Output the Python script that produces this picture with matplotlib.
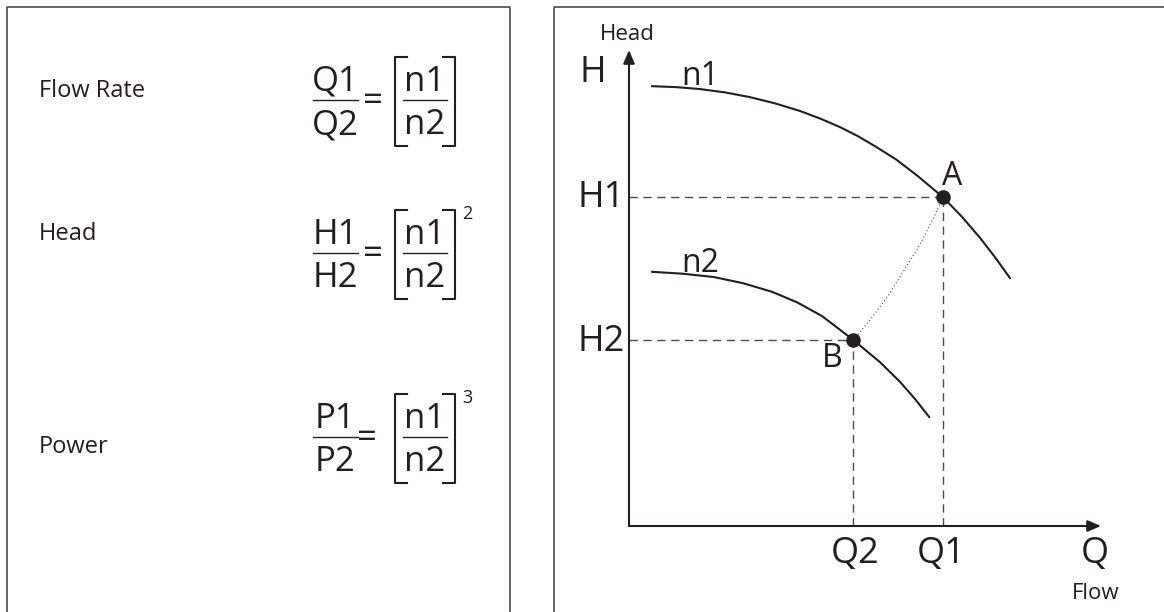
import matplotlib
matplotlib.use('Agg')
import matplotlib.pyplot as plt

plt.rcParams['font.family'] = ['Open Sans', 'DejaVu Sans']

INK = '#231f20'
GREY = '#4d4d4d'

# affinity law rows (left panel)
row_names = ['Flow Rate', 'Head', 'Power']
row_ratios = [('Q1', 'Q2'), ('H1', 'H2'), ('P1', 'P2')]
row_powers = ['', '2', '3']
speed_ratio = ('n1', 'n2')

# pump curves (Q and H in % of the axis length)
n1_q = [4.9, 10.0, 15.0, 20.3, 25.6, 30.9, 36.2, 40.5, 44.7, 48.5, 52.1, 56.6, 61.2, 66.5, 70.5, 74.4, 77.6, 80.7]
n1_h = [92.4, 92.2, 91.8, 91.1, 90.1, 88.8, 87.2, 85.6, 83.8, 81.9, 79.8, 77.0, 73.5, 69.1, 65.0, 60.5, 56.4, 52.1]
n2_q = [4.9, 11.4, 18.0, 24.2, 30.3, 35.6, 40.9, 47.5, 53.2, 57.4, 60.5, 63.6]
n2_h = [53.4, 53.0, 52.3, 51.0, 49.2, 47.0, 44.1, 39.1, 34.4, 30.3, 26.8, 22.9]

# affinity parabola joining B and A
par_q = [47.5, 51.1, 54.7, 58.1, 61.7, 64.8, 66.5]
par_h = [39.1, 43.3, 48.1, 53.4, 59.2, 65.3, 69.1]

# duty points
pt_a = (66.5, 69.1)
pt_b = (47.5, 39.1)

W, H = 1164, 612
fig = plt.figure(figsize=(W / 100, H / 100), dpi=100)

# overlay in pixel units: panel frames + formulas
bg = fig.add_axes([0, 0, 1, 1])
bg.set_xlim(0, W)
bg.set_ylim(H, 0)
bg.axis('off')

bg.plot([7, 7, 510, 510], [H + 5, 7, 7, H + 5], color=GREY, lw=1.2)
bg.plot([554, 554, W + 5], [H + 5, 7, 7], color=GREY, lw=1.2)

frac_y = [100, 253, 437]
name_y = [97, 240, 453]
eq_x = [373, 373, 367]
fs_f = 25

for name, (top, bot), pw, fy, ny, ex in zip(row_names, row_ratios, row_powers, frac_y, name_y, eq_x):
    bg.text(39, ny, name, fontsize=17, color=INK, ha='left', va='baseline')

    # left fraction
    bg.plot([313, 358], [fy, fy], color=INK, lw=1.0)
    bg.text(335.5, fy - 9, top, fontsize=fs_f, color=INK, ha='center', va='baseline')
    bg.text(335.5, fy + 34, bot, fontsize=fs_f, color=INK, ha='center', va='baseline')
    bg.text(ex, fy + 11, '=', fontsize=fs_f, color=INK, ha='center', va='baseline')

    # bracketed speed ratio
    bg.plot([407, 395, 395, 407], [fy - 43, fy - 43, fy + 46, fy + 46], color=INK, lw=1.5)
    bg.plot([443, 455, 455, 443], [fy - 43, fy - 43, fy + 46, fy + 46], color=INK, lw=1.5)
    bg.plot([403, 447], [fy, fy], color=INK, lw=1.0)
    bg.text(425, fy - 9, speed_ratio[0], fontsize=fs_f, color=INK, ha='center', va='baseline')
    bg.text(425, fy + 34, speed_ratio[1], fontsize=fs_f, color=INK, ha='center', va='baseline')
    if pw:
        bg.text(467, fy - 39, pw, fontsize=13, color=INK, ha='center', va='center')

# pump chart (right panel)
ax = fig.add_axes([629 / W, (H - 526) / H, (1101 - 629) / W, (526 - 50) / H])
ax.set_xlim(0, 100)
ax.set_ylim(0, 100)
ax.axis('off')

ax.plot(n1_q, n1_h, color=INK, lw=1.5)
ax.plot(n2_q, n2_h, color=INK, lw=1.5)
ax.plot(par_q, par_h, color=GREY, lw=0.8, dashes=(1, 2.2))

dash = dict(color=GREY, lw=1.0, dashes=(6, 4))
for q, h in [pt_a, pt_b]:
    ax.plot([0, q], [h, h], **dash)
    ax.plot([q, q], [0, h], **dash)
ax.plot([pt_a[0], pt_b[0]], [pt_a[1], pt_b[1]], 'o', color=INK, ms=9.5, ls='none', zorder=5)

arrow = dict(arrowstyle='-|>,head_length=0.4,head_width=0.17', color=INK, lw=1.5,
             shrinkA=0, shrinkB=0, mutation_scale=20)
ax.annotate('', xy=(100, 0), xytext=(0, 0), arrowprops=arrow, annotation_clip=False)
ax.annotate('', xy=(0, 100), xytext=(0, 0), arrowprops=arrow, annotation_clip=False)

big = 26
mid = 23
lab = dict(textcoords='offset points', color=INK, va='baseline', annotation_clip=False)

ax.annotate('Head', xy=(0, 100), xytext=(-1.5, 7.2), fontsize=16, ha='center', **lab)
ax.annotate('H', xy=(0, 100), xytext=(-26.3, -23), fontsize=big, ha='center', **lab)
ax.annotate('H1', xy=(0, pt_a[1]), xytext=(-3, -7.2), fontsize=big, ha='right', **lab)
ax.annotate('H2', xy=(0, pt_b[1]), xytext=(-3, -7.9), fontsize=big, ha='right', **lab)
ax.annotate('Q1', xy=(pt_a[0], 0), xytext=(-1.5, -26.6), fontsize=big, ha='center', **lab)
ax.annotate('Q2', xy=(pt_b[0], 0), xytext=(1.5, -26.6), fontsize=big, ha='center', **lab)
ax.annotate('Q', xy=(100, 0), xytext=(-4.3, -26.6), fontsize=big, ha='center', **lab)
ax.annotate('Flow', xy=(100, 0), xytext=(-3.6, -52.5), fontsize=16, ha='center', **lab)
ax.annotate('A', xy=pt_a, xytext=(6.5, 8.6), fontsize=mid, ha='center', **lab)
ax.annotate('B', xy=pt_b, xytext=(-15, -19.4), fontsize=mid, ha='center', **lab)
ax.annotate('n1', xy=(n1_q[0], n1_h[0]), xytext=(21, 0.7), fontsize=mid, ha='left', **lab)
ax.annotate('n2', xy=(n2_q[0], n2_h[0]), xytext=(21, 0), fontsize=mid, ha='left', **lab)

fig.savefig('out.png', dpi=100, facecolor='white')
